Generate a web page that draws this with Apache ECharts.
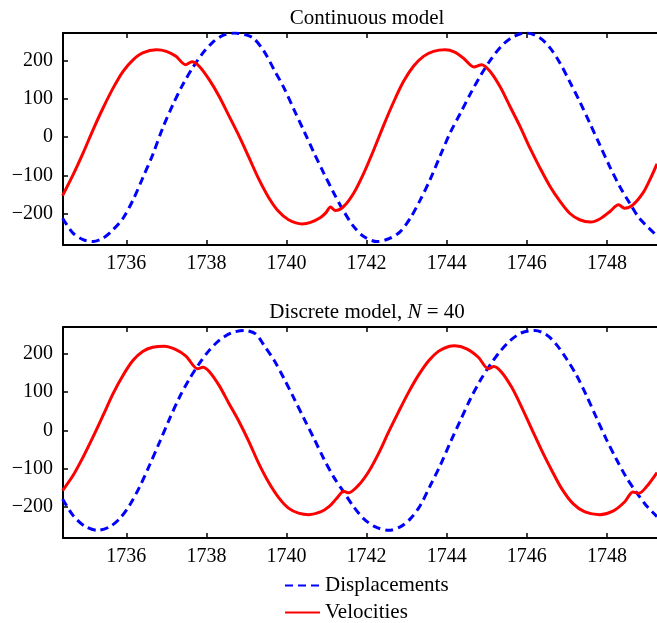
<!DOCTYPE html>
<html>
<head>
<meta charset="utf-8">
<script src="https://cdn.jsdelivr.net/npm/echarts@6/dist/echarts.min.js"></script>
<style>html,body{margin:0;padding:0;background:#fff}#c{width:657px;height:623px}</style>
</head>
<body>
<div id="c"></div>
<script>
// Tick values
var xTicks = [1736, 1738, 1740, 1742, 1744, 1746, 1748];
var yTicks = [-200, -100, 0, 100, 200];
var seriesNames = ['Displacements', 'Velocities'];
var titles = ['Continuous model', 'Discrete model, N = 40'];

// Continuous model: displacements [year, value]
var contDisp = [[1734.41,-212],[1734.67,-251],[1734.92,-268],[1735.17,-273],[1735.42,-264],[1735.67,-242],[1735.92,-212],[1736.17,-164],[1736.41,-107],[1736.66,-46],[1736.91,24],[1737.16,84],[1737.41,137],[1737.65,180],[1737.9,218],[1738.15,247],[1738.4,265],[1738.7,272],[1738.99,267],[1739.19,257],[1739.44,224],[1739.69,176],[1739.94,128],[1740.19,71],[1740.44,15],[1740.69,-42],[1740.93,-94],[1741.18,-146],[1741.43,-194],[1741.68,-234],[1741.93,-260],[1742.26,-273],[1742.59,-264],[1742.84,-247],[1743.09,-212],[1743.34,-164],[1743.59,-110],[1743.84,-48],[1744.09,12],[1744.34,62],[1744.59,113],[1744.84,160],[1745.09,201],[1745.34,235],[1745.59,258],[1745.84,270],[1746.0,272],[1746.33,259],[1746.58,233],[1746.83,193],[1747.07,145],[1747.32,93],[1747.57,37],[1747.82,-20],[1748.07,-77],[1748.32,-129],[1748.57,-173],[1748.81,-212],[1749.25,-258]];
// Continuous model: velocities
var contVel = [[1734.41,-153],[1734.67,-99],[1734.92,-42],[1735.17,19],[1735.42,76],[1735.67,128],[1735.92,172],[1736.17,202],[1736.41,220],[1736.75,228],[1737.0,224],[1737.24,211],[1737.48,189],[1737.64,197],[1737.82,185],[1738.07,150],[1738.32,106],[1738.57,54],[1738.82,2],[1739.07,-55],[1739.3,-108],[1739.55,-157],[1739.8,-194],[1740.05,-216],[1740.39,-227],[1740.6,-223],[1740.85,-210],[1740.98,-198],[1741.1,-183],[1741.22,-192],[1741.43,-181],[1741.68,-146],[1741.93,-94],[1742.18,-33],[1742.43,32],[1742.68,93],[1742.92,145],[1743.17,185],[1743.42,211],[1743.67,224],[1743.96,228],[1744.2,222],[1744.42,206],[1744.68,183],[1744.87,189],[1745.08,172],[1745.33,132],[1745.58,80],[1745.83,28],[1746.08,-29],[1746.33,-81],[1746.58,-129],[1746.83,-168],[1747.07,-199],[1747.32,-216],[1747.59,-222],[1747.82,-214],[1748.07,-195],[1748.29,-177],[1748.44,-186],[1748.65,-177],[1748.9,-146],[1749.07,-112],[1749.25,-70]];
// Discrete model: displacements
var discDisp = [[1734.41,-179],[1734.67,-222],[1734.96,-250],[1735.29,-261],[1735.58,-252],[1735.83,-231],[1736.08,-196],[1736.33,-148],[1736.58,-91],[1736.83,-31],[1737.08,30],[1737.33,87],[1737.58,135],[1737.82,174],[1738.07,209],[1738.32,235],[1738.61,254],[1738.94,261],[1739.23,252],[1739.44,222],[1739.69,183],[1739.94,135],[1740.19,83],[1740.44,30],[1740.69,-22],[1740.93,-74],[1741.18,-122],[1741.43,-161],[1741.68,-200],[1741.93,-231],[1742.22,-252],[1742.55,-261],[1742.84,-252],[1743.09,-231],[1743.34,-196],[1743.59,-144],[1743.84,-91],[1744.09,-31],[1744.34,26],[1744.59,82],[1744.84,131],[1745.09,172],[1745.34,207],[1745.59,235],[1745.87,255],[1746.2,261],[1746.49,250],[1746.74,224],[1746.99,187],[1747.24,144],[1747.49,91],[1747.73,35],[1747.98,-22],[1748.23,-74],[1748.48,-122],[1748.73,-161],[1748.98,-196],[1749.25,-225]];
// Discrete model: velocities
var discVel = [[1734.41,-157],[1734.67,-118],[1734.92,-70],[1735.17,-17],[1735.42,39],[1735.67,96],[1735.92,144],[1736.17,183],[1736.41,206],[1736.66,217],[1736.95,220],[1737.24,211],[1737.49,194],[1737.78,161],[1737.91,165],[1738.07,154],[1738.32,117],[1738.57,69],[1738.82,22],[1739.07,-31],[1739.3,-85],[1739.55,-135],[1739.8,-175],[1740.05,-203],[1740.3,-216],[1740.56,-220],[1740.85,-213],[1741.06,-199],[1741.25,-178],[1741.43,-159],[1741.55,-163],[1741.8,-143],[1742.05,-108],[1742.3,-60],[1742.55,-4],[1742.8,49],[1743.05,100],[1743.3,145],[1743.55,182],[1743.8,207],[1744.05,219],[1744.2,221],[1744.5,213],[1744.79,191],[1745.04,161],[1745.18,167],[1745.37,152],[1745.62,113],[1745.87,61],[1746.12,4],[1746.37,-52],[1746.62,-104],[1746.87,-152],[1747.16,-192],[1747.45,-213],[1747.82,-220],[1748.15,-211],[1748.44,-187],[1748.65,-161],[1748.8,-164],[1748.98,-148],[1749.25,-110]];

var FONT = "'Liberation Serif', 'Times New Roman', serif";
var BLUE = '#0000ff', RED = '#ff0000';

function fmtY(v) { return v < 0 ? '\u2212' + Math.abs(v) : String(v); }
function fmtX(v) { return String(v); }

function xAxes(gi) {
  return [{
    gridIndex: gi, type: 'value', position: 'bottom', min: 1734.42, max: 1749.25,
    axisLine: { show: true, onZero: false, lineStyle: { color: '#000', width: 2 } },
    axisTick: { show: true, inside: true, length: 5, customValues: xTicks, lineStyle: { color: '#000', width: 1.5 } },
    axisLabel: { show: true, customValues: xTicks, margin: 9, color: '#000', fontFamily: FONT, fontSize: 20, formatter: fmtX },
    splitLine: { show: false }
  }, {
    gridIndex: gi, type: 'value', position: 'top', min: 1734.42, max: 1749.25,
    axisLine: { show: true, onZero: false, lineStyle: { color: '#000', width: 2 } },
    axisTick: { show: true, inside: true, length: 5, customValues: xTicks, lineStyle: { color: '#000', width: 1.5 } },
    axisLabel: { show: false },
    splitLine: { show: false }
  }];
}
function yAxis(gi, mn, mx) {
  return {
    gridIndex: gi, type: 'value', position: 'left', min: mn, max: mx,
    axisLine: { show: true, onZero: false, lineStyle: { color: '#000', width: 2 } },
    axisTick: { show: true, inside: true, length: 5, customValues: yTicks, lineStyle: { color: '#000', width: 1.5 } },
    axisLabel: { show: true, customValues: yTicks, margin: 10, color: '#000', fontFamily: FONT, fontSize: 20, formatter: fmtY },
    splitLine: { show: false }
  };
}
function dispSeries(data, xi, yi) {
  return { name: seriesNames[0], type: 'line', xAxisIndex: xi, yAxisIndex: yi, data: data,
    symbol: 'none', smooth: 0.3, z: 2, lineStyle: { color: BLUE, width: 3, type: [8, 5] }, itemStyle: { color: BLUE } };
}
function velSeries(data, xi, yi) {
  return { name: seriesNames[1], type: 'line', xAxisIndex: xi, yAxisIndex: yi, data: data,
    symbol: 'none', smooth: 0.3, z: 3, lineStyle: { color: RED, width: 3 }, itemStyle: { color: RED } };
}
function legendFor(name, top) {
  return {
    data: [name], left: 279, top: top, orient: 'vertical',
    itemWidth: 35, itemHeight: 20, itemGap: 0,
    itemStyle: { opacity: 0, borderWidth: 0 },
    textStyle: { fontFamily: FONT, fontSize: 21, color: '#000' }
  };
}

var chart = echarts.init(document.getElementById('c'), null, { renderer: 'canvas' });
chart.setOption({
  animation: false,
  backgroundColor: '#fff',
  title: [
    { text: titles[0], left: 362, top: 3, textAlign: 'center',
      textStyle: { fontFamily: FONT, fontSize: 21, fontWeight: 'normal', color: '#000' } },
    { text: '{a|Discrete model, }{i|N}{a| = 40}', left: 362, top: 297, textAlign: 'center',
      textStyle: { fontFamily: FONT, fontSize: 21, fontWeight: 'normal', color: '#000',
        rich: { a: { fontFamily: FONT, fontSize: 21, color: '#000' }, i: { fontFamily: FONT, fontSize: 21, fontStyle: 'italic', color: '#000' } } } }
  ],
  grid: [
    { left: 63, top: 33, width: 596, height: 212 },
    { left: 63, top: 327, width: 596, height: 211 }
  ],
  xAxis: xAxes(0).concat(xAxes(1)),
  yAxis: [yAxis(0, -282, 272), yAxis(1, -281, 270)],
  legend: [legendFor(seriesNames[0], 570), legendFor(seriesNames[1], 597)],
  series: [
    dispSeries(contDisp, 0, 0), velSeries(contVel, 0, 0),
    dispSeries(discDisp, 2, 1), velSeries(discVel, 2, 1)
  ]
});
</script>
</body>
</html>
